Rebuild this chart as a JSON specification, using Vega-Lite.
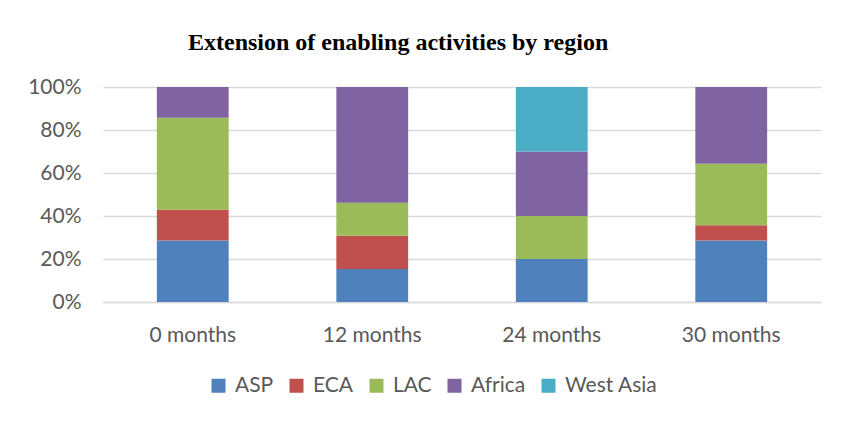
{
  "$schema": "https://vega.github.io/schema/vega-lite/v6.json",
  "width": 718,
  "height": 215,
  "autosize": {"type": "none"},
  "padding": {"left": 103, "top": 87, "right": 20, "bottom": 121},
  "background": "white",
  "title": {
    "text": "Extension of enabling activities by region",
    "font": "Liberation Serif",
    "fontSize": 24,
    "fontWeight": "bold",
    "color": "black",
    "anchor": "start",
    "frame": "group",
    "dx": 85,
    "offset": 21
  },
  "data": {
    "values": [
      {"period": "0 months", "region": "ASP", "ord": 1, "count": 2},
      {"period": "0 months", "region": "ECA", "ord": 2, "count": 1},
      {"period": "0 months", "region": "LAC", "ord": 3, "count": 3},
      {"period": "0 months", "region": "Africa", "ord": 4, "count": 1},
      {"period": "12 months", "region": "ASP", "ord": 1, "count": 2},
      {"period": "12 months", "region": "ECA", "ord": 2, "count": 2},
      {"period": "12 months", "region": "LAC", "ord": 3, "count": 2},
      {"period": "12 months", "region": "Africa", "ord": 4, "count": 7},
      {"period": "24 months", "region": "ASP", "ord": 1, "count": 2},
      {"period": "24 months", "region": "LAC", "ord": 3, "count": 2},
      {"period": "24 months", "region": "Africa", "ord": 4, "count": 3},
      {"period": "24 months", "region": "West Asia", "ord": 5, "count": 3},
      {"period": "30 months", "region": "ASP", "ord": 1, "count": 4},
      {"period": "30 months", "region": "ECA", "ord": 2, "count": 1},
      {"period": "30 months", "region": "LAC", "ord": 3, "count": 4},
      {"period": "30 months", "region": "Africa", "ord": 4, "count": 5}
    ]
  },
  "mark": {"type": "bar"},
  "encoding": {
    "x": {
      "field": "period",
      "type": "nominal",
      "sort": ["0 months", "12 months", "24 months", "30 months"],
      "scale": {"paddingInner": 0.6, "paddingOuter": 0.3},
      "axis": {
        "title": null,
        "labelAngle": 0,
        "ticks": false,
        "domain": true,
        "domainColor": "#d9d9d9",
        "domainWidth": 1.5,
        "labelPadding": 22,
        "labelFont": "Lato",
        "labelFontSize": 21,
        "labelColor": "#595959"
      }
    },
    "y": {
      "field": "count",
      "type": "quantitative",
      "stack": "normalize",
      "scale": {"domain": [0, 1]},
      "axis": {
        "title": null,
        "format": ".0%",
        "values": [0, 0.2, 0.4, 0.6, 0.8, 1],
        "ticks": false,
        "domain": false,
        "gridColor": "#d9d9d9",
        "gridWidth": 1.5,
        "labelPadding": 22,
        "labelFont": "Lato",
        "labelFontSize": 21,
        "labelColor": "#595959"
      }
    },
    "color": {
      "field": "region",
      "type": "nominal",
      "scale": {
        "domain": ["ASP", "ECA", "LAC", "Africa", "West Asia"],
        "range": ["#4F81BD", "#C0504D", "#9BBB59", "#8064A2", "#4BACC6"]
      },
      "legend": {
        "title": null,
        "orient": "none",
        "legendX": 105,
        "legendY": 288,
        "direction": "horizontal",
        "symbolType": "square",
        "symbolSize": 196,
        "symbolStrokeWidth": 0,
        "labelFont": "Lato",
        "labelFontSize": 21,
        "labelColor": "#595959",
        "labelOffset": 6,
        "columnPadding": 12
      }
    },
    "order": {"field": "ord", "type": "quantitative"}
  },
  "config": {"view": {"stroke": null}}
}
